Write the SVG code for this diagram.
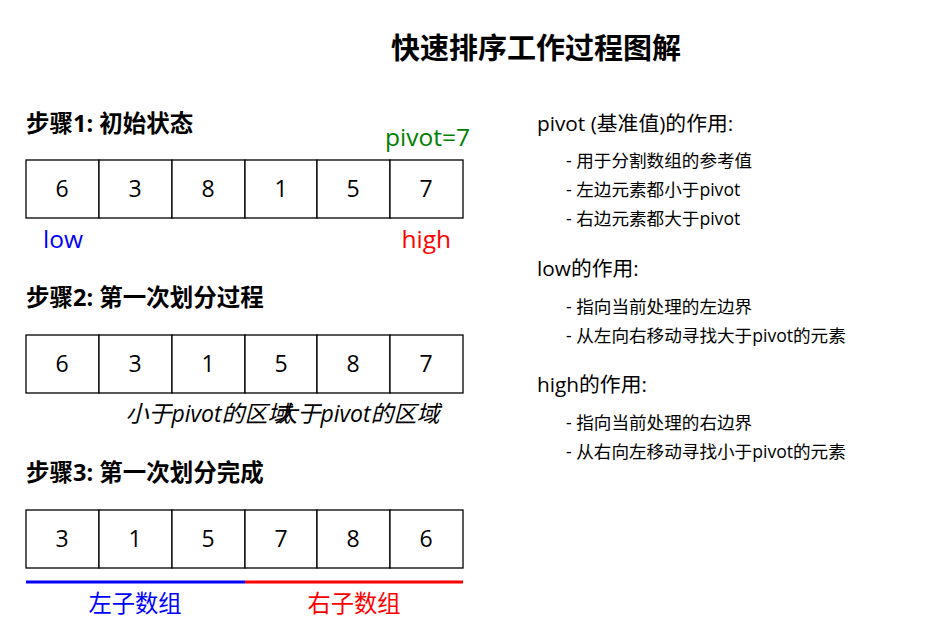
<svg xmlns="http://www.w3.org/2000/svg" width="943" height="631" viewBox="0 0 943 631">
<style>
text{font-family:"Open Sans","Noto Sans CJK SC",sans-serif;fill:#000}
.title{font-size:29px;font-weight:bold;text-anchor:middle}
.step{font-size:23.5px;font-weight:bold}
.cell rect{fill:#fff;stroke:#000;stroke-width:1.3}
.num{font-size:23px;text-anchor:middle}
.lbl{font-size:24.5px}
.sub{font-size:23.3px;text-anchor:middle}
.h{font-size:20.8px}
.b{font-size:17.6px}
.it{font-size:23px;font-style:italic;text-anchor:middle}
</style>
<rect width="943" height="631" fill="#fff"/>
<text class="title" x="536" y="59">快速排序工作过程图解</text>

<g id="step1">
<text class="step" x="26" y="132">步骤1: 初始状态</text>
<text class="lbl" x="470" y="146" text-anchor="end" style="fill:#008000">pivot=7</text>
<g class="cell">
<rect x="26" y="160" width="73" height="58"/><rect x="99" y="160" width="73" height="58"/><rect x="172" y="160" width="73" height="58"/><rect x="245" y="160" width="72" height="58"/><rect x="317" y="160" width="73" height="58"/><rect x="390" y="160" width="73" height="58"/>
</g>
<text class="num" x="62" y="197">6</text><text class="num" x="135" y="197">3</text><text class="num" x="208" y="197">8</text><text class="num" x="281" y="197">1</text><text class="num" x="353" y="197">5</text><text class="num" x="426" y="197">7</text>
<text class="lbl" x="43" y="248" style="fill:#0000ff">low</text>
<text class="lbl" x="451" y="248" text-anchor="end" style="fill:#ff0000">high</text>
</g>

<g id="step2">
<text class="step" x="26" y="306">步骤2: 第一次划分过程</text>
<g class="cell">
<rect x="26" y="335" width="73" height="58"/><rect x="99" y="335" width="73" height="58"/><rect x="172" y="335" width="73" height="58"/><rect x="245" y="335" width="72" height="58"/><rect x="317" y="335" width="73" height="58"/><rect x="390" y="335" width="73" height="58"/>
</g>
<text class="num" x="62" y="372">6</text><text class="num" x="135" y="372">3</text><text class="num" x="208" y="372">1</text><text class="num" x="281" y="372">5</text><text class="num" x="353" y="372">8</text><text class="num" x="426" y="372">7</text>
<text class="it" x="208" y="422">小于pivot的区域</text>
<text class="it" x="357" y="422">大于pivot的区域</text>
</g>

<g id="step3">
<text class="step" x="26" y="481">步骤3: 第一次划分完成</text>
<g class="cell">
<rect x="26" y="510" width="73" height="58"/><rect x="99" y="510" width="73" height="58"/><rect x="172" y="510" width="73" height="58"/><rect x="245" y="510" width="72" height="58"/><rect x="317" y="510" width="73" height="58"/><rect x="390" y="510" width="73" height="58"/>
</g>
<text class="num" x="62" y="547">3</text><text class="num" x="135" y="547">1</text><text class="num" x="208" y="547">5</text><text class="num" x="281" y="547">7</text><text class="num" x="353" y="547">8</text><text class="num" x="426" y="547">6</text>
<line x1="26" y1="582" x2="245" y2="582" stroke="#0000ff" stroke-width="3"/>
<line x1="245" y1="582" x2="463" y2="582" stroke="#ff0000" stroke-width="3"/>
<text class="sub" x="135" y="612" style="fill:#0000ff">左子数组</text>
<text class="sub" x="354" y="612" style="fill:#ff0000">右子数组</text>
</g>

<g id="legend">
<text class="h" x="537" y="131">pivot (基准值)的作用:</text>
<text class="b" x="566" y="167">- 用于分割数组的参考值</text>
<text class="b" x="566" y="196">- 左边元素都小于pivot</text>
<text class="b" x="566" y="225">- 右边元素都大于pivot</text>
<text class="h" x="537" y="276">low的作用:</text>
<text class="b" x="566" y="313">- 指向当前处理的左边界</text>
<text class="b" x="566" y="342">- 从左向右移动寻找大于pivot的元素</text>
<text class="h" x="537" y="392">high的作用:</text>
<text class="b" x="566" y="429">- 指向当前处理的右边界</text>
<text class="b" x="566" y="458">- 从右向左移动寻找小于pivot的元素</text>
</g>
</svg>
